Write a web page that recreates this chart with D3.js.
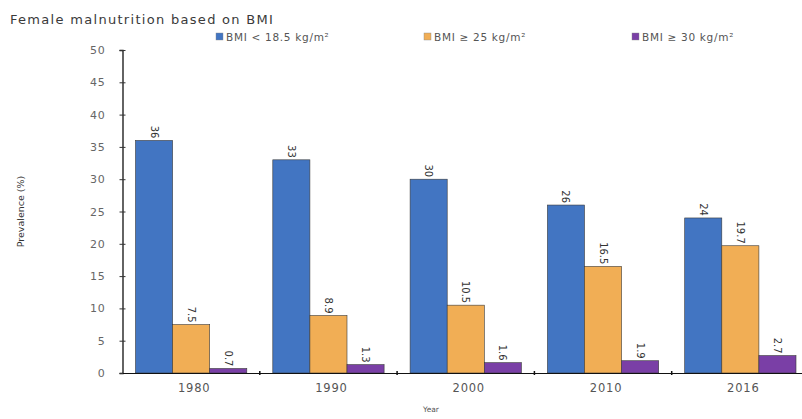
<!DOCTYPE html>
<html>
<head>
<meta charset="utf-8">
<script src="https://cdn.jsdelivr.net/npm/d3@7"></script>
<style>
  body { margin: 0; background: #fff; }
  text { font-family: "DejaVu Sans", sans-serif; }
</style>
</head>
<body>
<div id="chart"></div>
<script>
const years = ["1980", "1990", "2000", "2010", "2016"];
const seriesNames = ["BMI < 18.5 kg/m²", "BMI ≥ 25 kg/m²", "BMI ≥ 30 kg/m²"];
const underweight = [36, 33, 30, 26, 24];
const overweight = [7.5, 8.9, 10.5, 16.5, 19.7];
const obese = [0.7, 1.3, 1.6, 1.9, 2.7];
const yTicks = [0, 5, 10, 15, 20, 25, 30, 35, 40, 45, 50];
const colors = ["#4275C2", "#F1AE55", "#7A3FA6"];

const width = 802;
const height = 419;
const series = [underweight, overweight, obese];

const svg = d3.select("#chart")
  .append("svg")
  .attr("width", width)
  .attr("height", height);

// band axis runs a bit past the right edge, like the cropped original
const x = d3.scaleBand()
  .domain(years)
  .range([122.5, 809])
  .paddingInner(0)
  .paddingOuter(0);

const inner = d3.scaleBand()
  .domain(d3.range(series.length))
  .range([13, x.bandwidth() - 13]);

const y = d3.scaleLinear()
  .domain([0, 50])
  .range([373, 50]);

// title
svg.append("text")
  .attr("x", 10)
  .attr("y", 24)
  .attr("font-size", 13)
  .attr("letter-spacing", 1.3)
  .attr("fill", "#3a3a3a")
  .text("Female malnutrition based on BMI");

// legend
const legendX = [216, 424, 632];
seriesNames.forEach(function (name, i) {
  const g = svg.append("g").attr("transform", "translate(" + legendX[i] + ",37)");
  g.append("rect")
    .attr("x", 0)
    .attr("y", -4)
    .attr("width", 7)
    .attr("height", 7)
    .attr("fill", colors[i])
    .attr("stroke", "#888")
    .attr("stroke-width", 0.4);
  g.append("text")
    .attr("x", 10)
    .attr("y", 4)
    .attr("font-size", 10.5)
    .attr("letter-spacing", 0.7)
    .attr("fill", "#555")
    .text(name);
});

// bars
const groups = svg.append("g")
  .selectAll("g")
  .data(years)
  .enter()
  .append("g")
  .attr("transform", function (d) { return "translate(" + x(d) + ",0)"; });

groups.selectAll("rect")
  .data(function (d, i) {
    return series.map(function (s, k) { return { k: k, v: s[i] }; });
  })
  .enter()
  .append("rect")
  .attr("x", function (d) { return inner(d.k); })
  .attr("y", function (d) { return y(d.v); })
  .attr("width", inner.bandwidth())
  .attr("height", function (d) { return y(0) - y(d.v); })
  .attr("fill", function (d) { return colors[d.k]; })
  .attr("stroke", "#3a3a3a")
  .attr("stroke-width", 0.6);

groups.selectAll("text")
  .data(function (d, i) {
    return series.map(function (s, k) { return { k: k, v: s[i] }; });
  })
  .enter()
  .append("text")
  .attr("transform", function (d) {
    const cx = inner(d.k) + inner.bandwidth() / 2;
    return "translate(" + cx + "," + (y(d.v) - 2) + ") rotate(90)";
  })
  .attr("text-anchor", "end")
  .attr("dy", "0.35em")
  .attr("font-size", 10)
  .attr("fill", "#333")
  .text(function (d) { return d.v; });

// y axis
const yAxis = svg.append("g")
  .attr("transform", "translate(" + x.range()[0] + ",0)")
  .call(d3.axisLeft(y).tickValues(yTicks).tickSize(3).tickPadding(14));
yAxis.select(".domain").attr("stroke", "#111").attr("stroke-width", 1.3);
yAxis.selectAll(".tick line").attr("x2", 3).attr("x1", -3).attr("stroke", "#333");
yAxis.selectAll(".tick text")
  .attr("font-size", 11)
  .attr("font-family", "DejaVu Sans, sans-serif")
  .attr("letter-spacing", 0.8)
  .attr("fill", "#666");

// x axis
const xAxis = svg.append("g")
  .attr("transform", "translate(0," + y(0) + ")")
  .call(d3.axisBottom(x).tickSize(0).tickPadding(11));
xAxis.select(".domain").attr("stroke", "#111").attr("stroke-width", 1.2);
xAxis.selectAll(".tick text")
  .attr("dx", 3)
  .attr("font-size", 11.5)
  .attr("font-family", "DejaVu Sans, sans-serif")
  .attr("letter-spacing", 0.8)
  .attr("fill", "#555");

// small ticks between the year groups
svg.append("g")
  .selectAll("line")
  .data(years.slice(1))
  .enter()
  .append("line")
  .attr("x1", function (d) { return x(d); })
  .attr("x2", function (d) { return x(d); })
  .attr("y1", y(0) - 2)
  .attr("y2", y(0) + 2)
  .attr("stroke", "#111")
  .attr("stroke-width", 1.5);

// axis titles
svg.append("text")
  .attr("transform", "translate(24," + y(25) + ") rotate(-90)")
  .attr("text-anchor", "middle")
  .attr("font-size", 9.5)
  .attr("font-family", "Liberation Sans Narrow, Liberation Sans, sans-serif")
  .attr("fill", "#333")
  .text("Prevalence (%)");

svg.append("text")
  .attr("x", 431)
  .attr("y", 412)
  .attr("text-anchor", "middle")
  .attr("font-size", 7.5)
  .attr("fill", "#555")
  .text("Year");
</script>
</body>
</html>
